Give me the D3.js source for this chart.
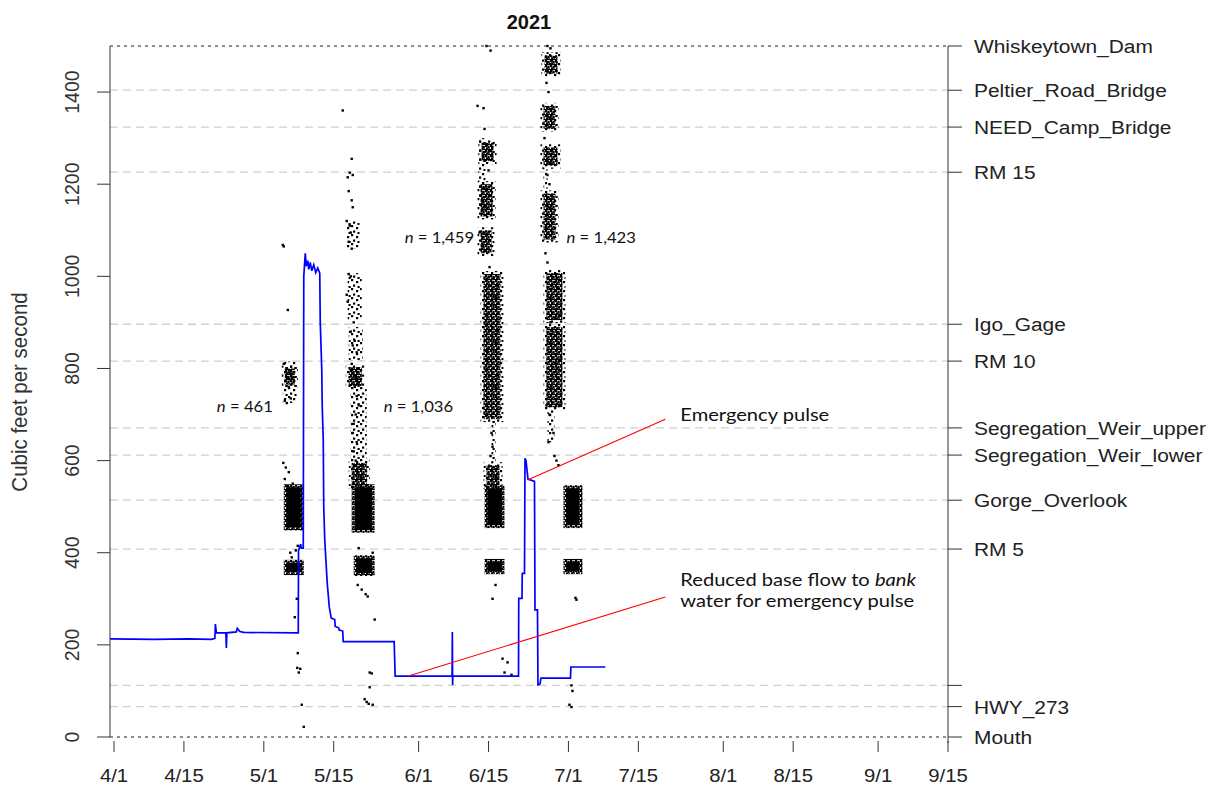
<!DOCTYPE html>
<html>
<head>
<meta charset="utf-8">
<script src="https://cdn.jsdelivr.net/npm/d3@7"></script>
<style>
  body { margin: 0; background: #fff; }
  text { font-family: "Liberation Sans", Arial, sans-serif; }
  .note { font-family: Lato, "Open Sans", sans-serif; }
</style>
</head>
<body>
<div id="chart"></div>
<script>
const width = 1219;
const height = 787;

// days since 4/1/2021
const tickDays = [0, 14, 30, 44, 61, 75, 91, 105, 122, 136, 153, 167];
const tickLabels = ["4/1", "4/15", "5/1", "5/15", "6/1", "6/15", "7/1", "7/15", "8/1", "8/15", "9/1", "9/15"];
const flowTicks = [0, 200, 400, 600, 800, 1000, 1200, 1400];

// sites on the right axis
const siteNames = ["Whiskeytown_Dam", "Peltier_Road_Bridge", "NEED_Camp_Bridge", "RM 15", "Igo_Gage", "RM 10",
  "Segregation_Weir_upper", "Segregation_Weir_lower", "Gorge_Overlook", "RM 5", "", "HWY_273", "Mouth"];
const siteValues = [1500, 1404, 1324, 1226, 896, 816, 671, 612, 514, 408, 112, 66, 0];

// discharge (blue line)
const flowDays = [-0.8, 8, 15, 19.5, 20.2, 20.3, 20.5, 22.4, 22.5, 22.6, 24.5, 24.7, 25.2, 26, 36.9,
  36.95, 37.4, 37.5, 37.9, 38.0, 38.3, 38.5, 38.8, 39.0, 39.3, 39.6, 40, 40.4, 40.8, 41.2, 41.3, 41.6,
  41.7, 41.9, 42.0, 42.2, 42.7, 43.1, 43.5, 44.2, 44.3, 45.0, 45.1, 45.8, 45.9, 56.1, 56.3, 67.7, 67.75,
  67.8, 67.85, 81.0, 81.05, 81.7, 81.75, 82.2, 82.3, 82.5, 82.9, 84.2, 84.3, 84.8, 84.9, 85.3, 85.5,
  91.4, 91.5, 98.4];
const flowValues = [213, 212, 213, 212, 214, 245, 226, 226, 193, 226, 228, 236, 229, 227, 226,
  405, 419, 410, 410, 1000, 1050, 1022, 1034, 1015, 1030, 1012, 1025, 1008, 1018, 1007, 900, 800,
  716, 645, 500, 428, 334, 283, 258, 255, 240, 237, 232, 230, 207, 207, 132, 132, 228,
  113, 132, 132, 301, 301, 355, 355, 605, 600, 560, 555, 276, 276, 113, 115, 128,
  128, 152, 152];

// detections: single points
const dotDays = [33.8, 34.0, 34.8, 34.0, 34.6, 35.2, 35.6, 34.4, 35.0, 34.2, 35.4, 34.6, 33.9, 34.4, 35.0, 34.2,
  35.8, 34.8, 35.3, 36.4, 36.8, 35.6, 36.6, 36.2, 36.8, 36.7, 37.3, 37.0, 37.6, 38.0,
  45.8, 47.6, 47.2, 47.8, 46.8, 47.0, 47.6, 47.8, 46.6, 47.2, 47.4, 47.0, 47.6, 47.0, 47.4, 46.6, 46.8,
  48.0, 47.4, 48.2, 47.8, 48.6, 47.6, 48.8, 47.8, 48.4, 49.0, 48.2, 48.6, 49.0, 48.4, 48.0, 47.8, 48.6,
  48.0, 48.4, 49.4, 48.8, 49.6, 51.8, 49.0, 48.8, 49.6, 50.4, 50.8, 52.2, 51.2, 51.6, 51.2, 50.6, 51.0,
  51.8, 50.2,
  74.6, 75.4, 72.8, 74.0, 74.2, 75.0, 74.4, 75.2, 74.8, 75.6, 75.8, 75.4, 76.4, 75.8, 77.8, 78.8, 79.6,
  78.2, 73.2, 76.8,
  86.8, 87.4, 86.6, 87.0, 86.2, 86.8, 87.2, 86.4, 86.8, 87.4, 86.6, 87.2, 88.0, 87.0, 88.6, 89.0, 88.2,
  92.2, 92.6, 92.4, 91.6, 91.8, 91.2, 91.6];
const dotValues = [1068, 1065, 927, 810, 800, 790, 780, 775, 760, 730, 735, 725, 595, 585, 575, 560,
  550, 545, 400, 405, 415, 390, 300, 260, 182, 150, 148, 140, 70, 22,
  1360, 1255, 1225, 1220, 1215, 1185, 1165, 1150, 1120, 1110, 1095, 1075, 1060, 1005, 1000, 960, 945,
  900, 880, 860, 850, 835, 810, 800, 790, 780, 770, 760, 740, 720, 700, 680, 660, 640,
  620, 600, 590, 575, 560, 400, 410, 330, 320, 310, 305, 255, 140, 138, 108, 76, 72,
  70, 82,
  1500, 1490, 1370, 1365, 1320, 1230, 1150, 1020, 840, 660, 630, 610, 330, 300, 170, 162, 135,
  140, 1095, 560,
  1500, 1495, 1420, 1400, 1300, 1220, 1200, 1050, 1030, 900, 720, 700, 660, 640, 600, 590, 610,
  530, 298, 302, 112, 100, 70, 65];

// detections: packed groups [startDay, endDay, low, high]
const solidBands = [
  [34.6, 37.4, 455, 542], [34.6, 37.4, 358, 378],
  [48.2, 51.6, 450, 542], [48.6, 51.6, 356, 388],
  [74.8, 77.6, 460, 540], [74.8, 77.6, 360, 380],
  [90.6, 93.2, 460, 540], [90.6, 93.2, 360, 380]
];
const denseBands = [
  [34.2, 36.2, 765, 800],
  [47.0, 49.6, 762, 803], [47.6, 50.6, 545, 595],
  [73.6, 76.0, 1250, 1290], [73.4, 75.8, 1130, 1200], [73.4, 75.6, 1050, 1100], [74.0, 77.4, 690, 1005],
  [74.6, 77.2, 545, 590],
  [86.2, 88.8, 1440, 1480], [86.0, 88.4, 1320, 1370], [86.0, 88.8, 1240, 1280], [86.0, 88.4, 1080, 1180],
  [86.6, 89.8, 905, 1007], [86.6, 89.8, 716, 890]
];
const sparseBands = [
  [33.8, 36.6, 725, 815],
  [46.6, 49.2, 1060, 1120], [46.8, 49.6, 905, 1007], [47.0, 49.8, 818, 890], [47.4, 50.6, 600, 760],
  [73.0, 74.4, 1140, 1300], [75.6, 76.4, 590, 690], [86.0, 86.8, 1180, 1240], [86.8, 88.2, 640, 716]
];

const countLabels = ["461", "1,036", "1,459", "1,423"];
const countDays = [20.6, 54, 58.2, 90.6];
const countValues = [716, 716, 1083, 1083];

const svg = d3.select("#chart").append("svg").attr("width", width).attr("height", height);

const x = d3.scaleLinear().domain([-0.8, 167]).range([110, 948]);
const y = d3.scaleLinear().domain([0, 1500]).range([737, 46]);

const defs = svg.append("defs");
function makePattern(id, size, cells) {
  const p = defs.append("pattern").attr("id", id).attr("patternUnits", "userSpaceOnUse")
    .attr("width", size).attr("height", size);
  cells.forEach(c => p.append("rect").attr("x", c[0]).attr("y", c[1])
    .attr("width", 2.2).attr("height", 2.2).attr("fill", "#000"));
}
makePattern("dense", 5, [[0, 0], [2.5, 0.8], [1, 2.4], [3.4, 3.3], [0, 4], [2.2, 3.8]]);
makePattern("sparse", 9, [[0, 0], [5, 2], [2, 5.5], [6.5, 7]]);

// site lines
svg.append("g").selectAll("line").data(siteValues).join("line")
  .attr("x1", 110).attr("x2", 948)
  .attr("y1", d => y(d)).attr("y2", d => y(d))
  .attr("stroke", d => (d === 0 || d === 1500) ? "#222" : "#d0d0d0")
  .attr("stroke-width", d => (d === 0 || d === 1500) ? 1 : 1.3)
  .attr("stroke-dasharray", d => (d === 0 || d === 1500) ? "3,4" : "8,5");

// detection groups
function bands(data, fill, pad) {
  svg.append("g").selectAll("rect").data(data).join("rect")
    .attr("x", d => x(d[0]) - pad).attr("width", d => x(d[1]) - x(d[0]) + 2 * pad)
    .attr("y", d => y(d[3]) - pad).attr("height", d => y(d[2]) - y(d[3]) + 2 * pad)
    .attr("fill", fill);
}
bands(sparseBands, "url(#sparse)", 0);
bands(denseBands, "url(#sparse)", 3);
bands(solidBands, "url(#dense)", 3);
bands(denseBands, "url(#dense)", 0);
bands(solidBands, "#000", 0);
svg.append("g").selectAll("rect").data(dotDays).join("rect")
  .attr("x", d => x(d) - 1.2).attr("y", (d, i) => y(dotValues[i]) - 1.2)
  .attr("width", 2.4).attr("height", 2.4).attr("fill", "#000");

// flow
const line = d3.line().x(d => x(d[0])).y(d => y(d[1]));
svg.append("path").datum(d3.zip(flowDays, flowValues))
  .attr("d", line).attr("fill", "none").attr("stroke", "#0000ff").attr("stroke-width", 1.7);

// annotations
svg.append("line").attr("x1", x(82.8)).attr("y1", y(558)).attr("x2", x(110.4)).attr("y2", y(690))
  .attr("stroke", "#ff0000").attr("stroke-width", 1.1);
svg.append("line").attr("x1", x(58.8)).attr("y1", y(132)).attr("x2", x(110.4)).attr("y2", y(304))
  .attr("stroke", "#ff0000").attr("stroke-width", 1.1);

function note(day, val, size) {
  return svg.append("text").attr("class", "note")
    .attr("transform", `translate(${x(day)},${y(val) + size * 0.35}) scale(1.15,1)`)
    .attr("font-size", size).attr("fill", "#111");
}
note(113.4, 700, 17.5).text("Emergency pulse");
const t1 = note(113.4, 340, 17.5);
t1.append("tspan").text("Reduced base flow to ");
t1.append("tspan").attr("font-style", "italic").text("bank");
note(113.4, 295, 17.5).text("water for emergency pulse");

countLabels.forEach((c, i) => {
  const t = note(countDays[i], countValues[i], 14.5);
  t.append("tspan").attr("font-style", "italic").text("n");
  t.append("tspan").text(" = " + c);
});

// left axis
const gl = svg.append("g").attr("transform", "translate(110,0)");
gl.append("line").attr("x1", 0).attr("x2", 0).attr("y1", y(1500)).attr("y2", y(0)).attr("stroke", "#333");
gl.selectAll(".tk").data(flowTicks).join("line")
  .attr("x1", -13).attr("x2", 0).attr("y1", d => y(d)).attr("y2", d => y(d)).attr("stroke", "#333");
gl.selectAll("text").data(flowTicks).join("text")
  .attr("transform", d => `translate(-31,${y(d)}) scale(1.08,1) rotate(-90)`)
  .attr("text-anchor", "middle").attr("font-size", 19.5).attr("fill", "#333").text(d => d);

// right axis
const gr = svg.append("g").attr("transform", "translate(948,0)");
gr.append("line").attr("x1", 0).attr("x2", 0).attr("y1", y(1500)).attr("y2", y(0) + 6).attr("stroke", "#333");
gr.selectAll(".tk").data(siteValues).join("line")
  .attr("x1", 0).attr("x2", 14).attr("y1", d => y(d)).attr("y2", d => y(d)).attr("stroke", "#333");
gr.selectAll("text").data(siteNames).join("text")
  .attr("transform", (d, i) => `translate(26,${y(siteValues[i]) + 7}) scale(1.1,1)`)
  .attr("font-size", 19).attr("fill", "#222").text(d => d);

// bottom axis
const gb = svg.append("g");
gb.selectAll("line").data(tickDays).join("line")
  .attr("x1", d => x(d)).attr("x2", d => x(d)).attr("y1", 741).attr("y2", 752).attr("stroke", "#333");
gb.selectAll("text").data(tickDays).join("text")
  .attr("transform", d => `translate(${x(d)},782) scale(1.07,1)`).attr("text-anchor", "middle")
  .attr("font-size", 19).attr("fill", "#222").text((d, i) => tickLabels[i]);

// titles
svg.append("text").attr("x", 529).attr("y", 29).attr("text-anchor", "middle")
  .attr("font-size", 20).attr("font-weight", "bold").attr("fill", "#111").text("2021");
svg.append("text").attr("transform", "translate(27,392) scale(1.08,1) rotate(-90)").attr("text-anchor", "middle")
  .attr("font-size", 20.5).attr("fill", "#333").text("Cubic feet per second");
</script>
</body>
</html>
